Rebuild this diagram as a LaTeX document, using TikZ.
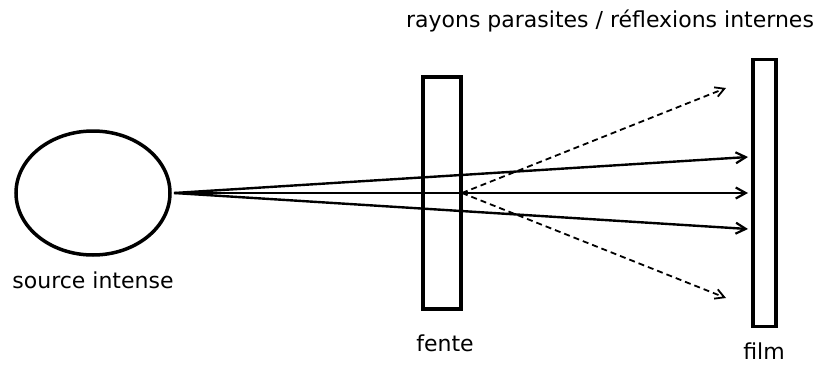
\documentclass[tikz,border=0pt]{standalone}
\usepackage{fontspec}
\setmainfont{DejaVu Sans}
\usetikzlibrary{shapes.geometric,arrows.meta}
\begin{document}
\begin{tikzpicture}[x=1pt,y=-1pt,
  thick box/.style={draw,line width=3.5pt,inner sep=0pt},
  lbl/.style={font=\fontsize{22}{26}\selectfont,inner sep=0pt},
  ray/.style={line width=2.4pt,-{Straight Barb[length=10pt,width=11pt,line width=2.2pt]}},
  parasite/.style={line width=1.8pt,dash pattern=on 6pt off 4pt,-{Straight Barb[length=9pt,width=10pt,line width=1.8pt]}}]
\useasboundingbox (0,0) rectangle (817,367);
\node[thick box,ellipse,minimum width=154pt,minimum height=124pt] (src) at (93,193) {};
\node[thick box,rectangle,minimum width=38pt,minimum height=232pt] (fente) at (442,193) {};
\node[thick box,rectangle,minimum width=23pt,minimum height=267pt] (film) at (764.5,193) {};
\node[lbl] (srclbl) at (93,280) {source intense};
\node[lbl] (fentelbl) at (445,343) {fente};
\node[lbl] (filmlbl) at (764,351) {film};
\node[lbl] (title) at (610,21) {rayons parasites / réflexions internes};
\coordinate (s0) at (174,193);
\coordinate (t1) at (748,157);
\coordinate (t2) at (748,193);
\coordinate (t3) at (748,229);
\coordinate (p0) at (462,193);
\coordinate (p1) at (726,88);
\coordinate (p2) at (726,298);
\draw[ray] (s0) -- (t1);
\draw[ray] (s0) -- (t2);
\draw[ray] (s0) -- (t3);
\draw[parasite] (p0) -- (p1);
\draw[parasite] (p0) -- (p2);
\end{tikzpicture}
\end{document}
